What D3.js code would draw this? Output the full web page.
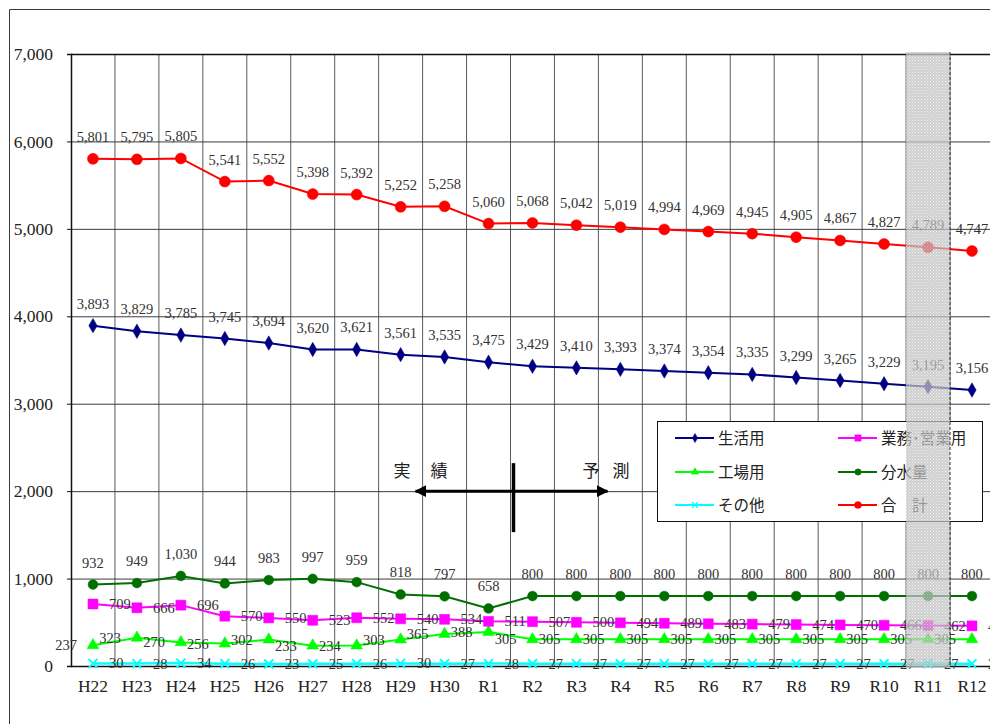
<!DOCTYPE html>
<html lang="ja">
<head>
<meta charset="utf-8">
<script src="https://cdn.jsdelivr.net/npm/d3@7"></script>
<style>
  html, body { margin: 0; padding: 0; background: #fff; }
  svg { display: block; }
</style>
</head>
<body>
<svg id="chart" width="990" height="724"></svg>
<script>
// 年度
const categories = ["H22","H23","H24","H25","H26","H27","H28","H29","H30","R1",
  "R2","R3","R4","R5","R6","R7","R8","R9","R10","R11","R12"];

// 系列値
const seikatsu = [3893,3829,3785,3745,3694,3620,3621,3561,3535,3475,3429,3410,3393,3374,3354,3335,3299,3265,3229,3195,3156];
const gyomu    = [709,666,696,570,550,523,552,540,534,511,507,500,494,489,483,479,474,470,466,462,459];
const kojo     = [237,323,270,256,302,233,234,303,365,388,305,305,305,305,305,305,305,305,305,305,305];
const bunsui   = [932,949,1030,944,983,997,959,818,797,658,800,800,800,800,800,800,800,800,800,800,800];
const sonota   = [30,28,34,26,23,25,26,30,27,28,27,27,27,27,27,27,27,27,27,27,27];
const gokei    = [5801,5795,5805,5541,5552,5398,5392,5252,5258,5060,5068,5042,5019,4994,4969,4945,4905,4867,4827,4789,4747];

// 目盛
const yTicks = [0,1000,2000,3000,4000,5000,6000,7000];
const highlightYear = "R11";
const dividerAfter = "R1";

const svg = d3.select("#chart");
const plotLeft = 71, plotTop = 54, plotBottom = 666, step = 43.95;

const x = d3.scaleBand().domain(categories).range([plotLeft, plotLeft + step * categories.length]).padding(0);
const y = d3.scaleLinear().domain([0, 7000]).range([plotBottom, plotTop]);
const cx = c => x(c) + x.bandwidth() / 2;

const serif = "'Liberation Serif','DejaVu Serif',serif";
const gothic = "'Noto Sans CJK JP','Noto Sans',sans-serif";

// 外枠
svg.append("path").attr("d", `M9.5,724 V9.5 H990`).attr("fill", "none")
  .attr("stroke", "#3a3a3a").attr("stroke-width", 1);

// 縦グリッド
svg.append("g").selectAll("line").data(categories.slice(1).concat(["_end"]))
  .join("line")
  .attr("x1", d => d === "_end" ? x.range()[1] : x(d))
  .attr("x2", d => d === "_end" ? x.range()[1] : x(d))
  .attr("y1", y(7000)).attr("y2", y(0))
  .attr("stroke", "#5a5a5a").attr("stroke-width", 1);

// 横グリッド
svg.append("g").selectAll("line").data(yTicks.filter(t => t > 0))
  .join("line")
  .attr("x1", plotLeft).attr("x2", x.range()[1])
  .attr("y1", d => y(d) + 0.5).attr("y2", d => y(d) + 0.5)
  .attr("stroke", d => d === 7000 ? "#111" : "#3c3c3c").attr("stroke-width", d => d === 7000 ? 1.5 : 1);

// Y軸
const yAxis = svg.append("g").attr("transform", `translate(${plotLeft},0)`)
  .call(d3.axisLeft(y).tickValues(yTicks).tickFormat(d3.format(",")).tickSize(4).tickPadding(14));
yAxis.select(".domain").attr("stroke", "#111").attr("stroke-width", 1.5);
yAxis.selectAll(".tick line").attr("stroke", "#111");
yAxis.selectAll("text").attr("font-family", serif).attr("font-size", 17.5).attr("fill", "#222");

// X軸
const xAxis = svg.append("g").attr("transform", `translate(0,${plotBottom})`)
  .call(d3.axisBottom(x).tickSize(0).tickPadding(14));
xAxis.select(".domain").attr("stroke", "#111").attr("stroke-width", 1.5);
xAxis.selectAll("text").attr("font-family", serif).attr("font-size", 17.5).attr("fill", "#222");

// マーカー
const xMark = s => `M${-s},${-s}L${s},${s}M${-s},${s}L${s},${-s}`;
const series = [
  { name: "工場用", values: kojo, color: "#00ff00", sym: d3.symbol(d3.symbolTriangle, 60)(), fill: true, label: "left" },
  { name: "その他", values: sonota, color: "#00ffff", sym: xMark(4.5), fill: false, label: "right" },
  { name: "業務･営業用", values: gyomu, color: "#ff00ff", sym: d3.symbol(d3.symbolSquare, 100)(), fill: true, label: "right" },
  { name: "分水量", values: bunsui, color: "#006f00", sym: d3.symbol(d3.symbolCircle, 75)(), fill: true, label: "above" },
  { name: "生活用", values: seikatsu, color: "#000080", sym: d3.symbol(d3.symbolDiamond, 60)(), fill: true, label: "above" },
  { name: "合　計", values: gokei, color: "#ff0000", sym: d3.symbol(d3.symbolCircle, 95)(), fill: true, label: "above" }
];

const line = d3.line().x((d, i) => cx(categories[i])).y(d => y(d));

series.forEach(s => {
  const g = svg.append("g");
  g.append("path").attr("d", line(s.values)).attr("fill", "none")
    .attr("stroke", s.color).attr("stroke-width", s.name === "その他" ? 2.5 : 2);
  g.selectAll("path.m").data(s.values).join("path").attr("class", "m")
    .attr("transform", (d, i) => `translate(${cx(categories[i])},${y(d)})`)
    .attr("d", s.sym)
    .attr("fill", s.fill ? s.color : "none")
    .attr("stroke", s.color).attr("stroke-width", s.fill ? 0.5 : 1.8);
});

// データラベル
series.forEach(s => {
  svg.append("g").selectAll("text").data(s.values).join("text")
    .attr("x", (d, i) => cx(categories[i]) + (s.label === "left" ? -16 : s.label === "right" ? 16 : 0))
    .attr("y", d => s.label === "above" ? y(d) - 17 : y(d))
    .attr("dy", s.label === "above" ? 0 : "0.35em")
    .attr("text-anchor", s.label === "left" ? "end" : s.label === "right" ? "start" : "middle")
    .attr("font-family", serif).attr("font-size", 14.5).attr("fill", "#333")
    .text(d => d3.format(",")(d));
});

// 実績・予測の区切り
const divX = x(dividerAfter) + x.bandwidth() + 3;
const arrowY = y(2000);
const defs = svg.append("defs");
defs.append("marker").attr("id", "ah").attr("viewBox", "0 0 10 10").attr("refX", 9).attr("refY", 5)
  .attr("markerWidth", 4).attr("markerHeight", 4).attr("orient", "auto-start-reverse")
  .append("path").attr("d", "M0,0L10,5L0,10Z").attr("fill", "#000");
svg.append("line").attr("x1", divX - 98).attr("x2", divX + 94).attr("y1", arrowY).attr("y2", arrowY)
  .attr("stroke", "#000").attr("stroke-width", 3)
  .attr("marker-start", "url(#ah)").attr("marker-end", "url(#ah)");
svg.append("line").attr("x1", divX).attr("x2", divX).attr("y1", arrowY - 28).attr("y2", arrowY + 41)
  .attr("stroke", "#000").attr("stroke-width", 3.5);
const ann = svg.append("g").attr("font-family", gothic).attr("font-size", 17).attr("fill", "#222");
ann.append("text").attr("x", divX - 120).attr("y", arrowY - 14).text("実");
ann.append("text").attr("x", divX - 83).attr("y", arrowY - 14).text("績");
ann.append("text").attr("x", divX + 69).attr("y", arrowY - 14).text("予");
ann.append("text").attr("x", divX + 99).attr("y", arrowY - 14).text("測");

// 凡例
const legend = svg.append("g").attr("transform", "translate(657,421)");
legend.append("rect").attr("x", 0.5).attr("y", 0.5).attr("width", 325).attr("height", 100)
  .attr("fill", "#fff").attr("stroke", "#111").attr("stroke-width", 1);
const legendOrder = ["生活用", "業務･営業用", "工場用", "分水量", "その他", "合　計"];
legendOrder.forEach((name, k) => {
  const s = series.find(t => t.name === name);
  const col = k % 2, row = Math.floor(k / 2);
  const lx = col === 0 ? 18 : 181, ly = [17, 51, 84][row];
  const it = legend.append("g").attr("transform", `translate(${lx},${ly})`);
  it.append("line").attr("x1", 0).attr("x2", 39).attr("y1", 0).attr("y2", 0)
    .attr("stroke", s.color).attr("stroke-width", 2);
  it.append("path").attr("transform", "translate(20,0) scale(0.65)").attr("d", s.sym)
    .attr("fill", s.fill ? s.color : "none").attr("stroke", s.color).attr("stroke-width", s.fill ? 0.5 : 2);
  it.append("text").attr("x", 43).attr("y", 0).attr("dy", "0.36em")
    .attr("font-family", gothic).attr("font-size", 15.5).attr("fill", "#222").text(name);
});

// 強調年度の網掛け
const pat = defs.append("pattern").attr("id", "dots").attr("patternUnits", "userSpaceOnUse")
  .attr("width", 3).attr("height", 3);
pat.append("rect").attr("width", 3).attr("height", 3).attr("fill", "#bdbdbd");
pat.append("rect").attr("x", 0).attr("y", 0).attr("width", 1).attr("height", 1).attr("fill", "#ececec");
pat.append("rect").attr("x", 1.5).attr("y", 1.5).attr("width", 1).attr("height", 1).attr("fill", "#e2e2e2");
svg.append("rect").attr("x", x(highlightYear)).attr("y", y(7000) - 2)
  .attr("width", x.bandwidth()).attr("height", y(0) - y(7000) + 3)
  .attr("fill", "url(#dots)").attr("opacity", 0.72);
svg.append("line").attr("x1", x(highlightYear) + x.bandwidth()).attr("x2", x(highlightYear) + x.bandwidth())
  .attr("y1", y(7000) - 2).attr("y2", y(0) + 1)
  .attr("stroke", "#333").attr("stroke-width", 1).attr("stroke-dasharray", "3,2");
</script>
</body>
</html>
